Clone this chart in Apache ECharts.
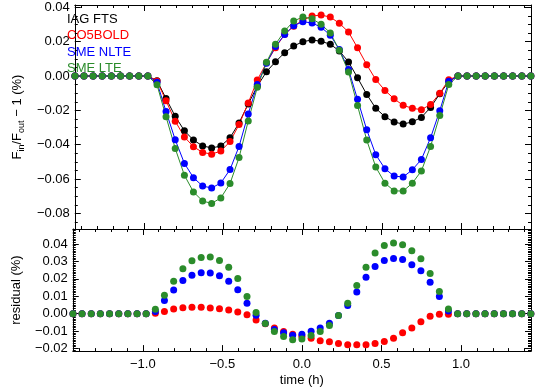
<!DOCTYPE html>
<html>
<head>
<meta charset="utf-8">
<script src="https://cdn.jsdelivr.net/npm/echarts@6/dist/echarts.min.js"></script>
<style>
html, body { margin: 0; padding: 0; background: #fff; }
#main { width: 538px; height: 389px; }
</style>
</head>
<body>
<div id="main"></div>
<script>
// time of each exposure (h)
var time = [
  -1.439, -1.382, -1.324, -1.267, -1.209, -1.151, -1.094, -1.036, -0.979, -0.921,
  -0.864, -0.806, -0.748, -0.691, -0.633, -0.576, -0.518, -0.460, -0.403, -0.345,
  -0.288, -0.230, -0.173, -0.115, -0.058, 0.000, 0.058, 0.115, 0.173, 0.230,
  0.288, 0.345, 0.403, 0.460, 0.518, 0.576, 0.633, 0.691, 0.748, 0.806,
  0.864, 0.921, 0.979, 1.036, 1.094, 1.151, 1.209, 1.267, 1.324, 1.382, 1.439
];
// F_in/F_out - 1 (%)
var iagFts = [
  0, 0, 0, 0, 0, 0, 0, 0, 0, -0.0027,
  -0.0131, -0.0235, -0.0319, -0.0373, -0.0407, -0.0419, -0.0408, -0.0360, -0.0273, -0.0163,
  -0.0060, 0.0025, 0.0083, 0.0136, 0.0175, 0.0200, 0.0210, 0.0202, 0.0185, 0.0146,
  0.0082, -0.0010, -0.0107, -0.0188, -0.0237, -0.0268, -0.0280, -0.0267, -0.0241, -0.0183,
  -0.0104, -0.0032, 0, 0, 0, 0, 0, 0, 0, 0, 0
];
var co5bold = [
  0, 0, 0, 0, 0, 0, 0, 0, 0, -0.0029,
  -0.0144, -0.0263, -0.0355, -0.0412, -0.0445, -0.0455, -0.0437, -0.0382, -0.0283, -0.0157,
  -0.0024, 0.0077, 0.0165, 0.0243, 0.0290, 0.0326, 0.0349, 0.0355, 0.0343, 0.0307,
  0.0256, 0.0164, 0.0066, -0.0021, -0.0084, -0.0133, -0.0171, -0.0188, -0.0196, -0.0166,
  -0.0101, -0.0022, 0, 0, 0, 0, 0, 0, 0, 0, 0
];
var smeNlte = [
  0, 0, 0, 0, 0, 0, 0, 0, 0, -0.0037,
  -0.0207, -0.0371, -0.0509, -0.0592, -0.0641, -0.0652, -0.0623, -0.0545, -0.0410, -0.0221,
  -0.0050, 0.0074, 0.0172, 0.0241, 0.0293, 0.0316, 0.0309, 0.0284, 0.0238, 0.0154,
  0.0038, -0.0136, -0.0313, -0.0458, -0.0540, -0.0583, -0.0588, -0.0546, -0.0486, -0.0360,
  -0.0202, -0.0030, 0, 0, 0, 0, 0, 0, 0, 0, 0
];
var smeLte = [
  0, 0, 0, 0, 0, 0, 0, 0, 0, -0.0051,
  -0.0237, -0.0422, -0.0578, -0.0675, -0.0728, -0.0742, -0.0710, -0.0626, -0.0475, -0.0262,
  -0.0066, 0.0080, 0.0185, 0.0262, 0.0320, 0.0344, 0.0333, 0.0301, 0.0251, 0.0150,
  0.0024, -0.0172, -0.0373, -0.0530, -0.0624, -0.0669, -0.0670, -0.0624, -0.0553, -0.0410,
  -0.0230, -0.0050, 0, 0, 0, 0, 0, 0, 0, 0, 0
];
// residual (%)
var resCo5bold = [
  0, 0, 0, 0, 0, 0, 0, 0, 0, 0.0002,
  0.0012, 0.0027, 0.0034, 0.0037, 0.0037, 0.0032, 0.0028, 0.0021, 0.0009, -0.0007,
  -0.0036, -0.0058, -0.0082, -0.0103, -0.0118, -0.0130, -0.0141, -0.0156, -0.0162, -0.0171,
  -0.0179, -0.0179, -0.0179, -0.0171, -0.0160, -0.0141, -0.0110, -0.0082, -0.0046, -0.0015,
  -0.0004, -0.0004, 0, 0, 0, 0, 0, 0, 0, 0, 0
];
var resSmeNlte = [
  0, 0, 0, 0, 0, 0, 0, 0, 0, 0.0013,
  0.0076, 0.0136, 0.0190, 0.0220, 0.0235, 0.0234, 0.0217, 0.0186, 0.0137, 0.0059,
  -0.0009, -0.0055, -0.0091, -0.0110, -0.0124, -0.0118, -0.0101, -0.0082, -0.0055, -0.0011,
  0.0047, 0.0125, 0.0209, 0.0271, 0.0305, 0.0317, 0.0311, 0.0281, 0.0247, 0.0180,
  0.0099, 0.0015, 0, 0, 0, 0, 0, 0, 0, 0, 0
];
var resSmeLte = [
  0, 0, 0, 0, 0, 0, 0, 0, 0, 0.0025,
  0.0106, 0.0186, 0.0258, 0.0303, 0.0323, 0.0325, 0.0305, 0.0266, 0.0202, 0.0099,
  0.0006, -0.0057, -0.0103, -0.0131, -0.0150, -0.0146, -0.0126, -0.0103, -0.0068, -0.0011,
  0.0059, 0.0161, 0.0266, 0.0348, 0.0391, 0.0405, 0.0395, 0.0361, 0.0315, 0.0230,
  0.0127, 0.0026, 0, 0, 0, 0, 0, 0, 0, 0, 0
];
var seriesNames = ['IAG FTS', 'CO5BOLD', 'SME NLTE', 'SME LTE'];
var timeTicks = [-1.0, -0.5, 0.0, 0.5, 1.0];
var fluxTicks = [-0.08, -0.06, -0.04, -0.02, 0.00, 0.02, 0.04];
var resTicks = [-0.02, -0.01, 0.00, 0.01, 0.02, 0.03, 0.04];

var colors = ['#000000', '#ff0000', '#0000ff', '#2b8c2b'];
var FONT = '"Liberation Sans", Arial, sans-serif';

// minor tick positions
function steps(from, to, step, major) {
  var out = [];
  var n = Math.round((to - from) / step);
  for (var k = 0; k <= n; k++) {
    var v = +(from + k * step).toFixed(4);
    if (major.indexOf(v) < 0) out.push(v);
  }
  return out;
}
var timeMinor = steps(-1.4, 1.4, 0.1, timeTicks);
var fluxMinor = steps(-0.085, 0.04, 0.005, fluxTicks);
var resMinor = steps(-0.021, 0.048, 0.001, resTicks);

function fmt(dec) {
  return function (v) {
    return (v < 0 ? '\u2212' : '') + Math.abs(v).toFixed(dec);
  };
}

var tMin = -1.44, tMax = 1.44;
var fMin = -0.0891, fMax = 0.04135;
var rMin = -0.0215, rMax = 0.0486;

function xAx(grid, pos, ticks, len, major, label) {
  return {
    type: 'value', gridIndex: grid, position: pos, min: tMin, max: tMax,
    axisLine: { show: major, onZero: false, lineStyle: { color: '#000', width: 1 } },
    axisTick: { show: true, inside: true, length: len, customValues: ticks, lineStyle: { color: '#000', width: 1 } },
    axisLabel: label ? {
      show: true, customValues: timeTicks, formatter: fmt(1), margin: 7,
      color: '#000', fontSize: 13, fontFamily: FONT
    } : { show: false },
    splitLine: { show: false },
    name: label ? 'time (h)' : '',
    nameLocation: 'middle', nameGap: 19,
    nameTextStyle: { color: '#000', fontSize: 13, fontFamily: FONT, lineHeight: 16 }
  };
}

function yAx(grid, pos, min, max, ticks, len, major, labels, name, nameGap, rich) {
  return {
    type: 'value', gridIndex: grid, position: pos, min: min, max: max,
    axisLine: { show: major, onZero: false, lineStyle: { color: '#000', width: 1 } },
    axisTick: { show: true, inside: true, length: len, customValues: ticks, lineStyle: { color: '#000', width: 1 } },
    axisLabel: labels ? {
      show: true, customValues: labels, formatter: fmt(2), margin: 5,
      color: '#000', fontSize: 13, fontFamily: FONT
    } : { show: false },
    splitLine: { show: false },
    name: name || '',
    nameLocation: 'middle', nameGap: nameGap || 0,
    nameTextStyle: { color: '#000', fontSize: 13, fontFamily: FONT, lineHeight: 16, rich: rich }
  };
}

var titleRich = {
  m: { fontSize: 13, fontFamily: FONT, color: '#000', lineHeight: 18 },
  s: { fontSize: 9, fontFamily: FONT, color: '#000', lineHeight: 9, verticalAlign: 'bottom' }
};

var xAxes = [
  xAx(0, 'bottom', timeTicks, 6, true, false),
  xAx(0, 'bottom', timeMinor, 3, false, false),
  xAx(0, 'top', timeTicks, 6, true, false),
  xAx(0, 'top', timeMinor, 3, false, false),
  xAx(1, 'bottom', timeTicks, 6, true, true),
  xAx(1, 'bottom', timeMinor, 3, false, false),
  xAx(1, 'top', timeTicks, 6, true, false),
  xAx(1, 'top', timeMinor, 3, false, false)
];
var yAxes = [
  yAx(0, 'left', fMin, fMax, fluxTicks, 6, true, fluxTicks,
      '{m|F}{s|in}{m|/F}{s|out}{m| \u2212 1 (%)}', 38, titleRich),
  yAx(0, 'left', fMin, fMax, fluxMinor, 3, false),
  yAx(0, 'right', fMin, fMax, fluxTicks, 6, true),
  yAx(0, 'right', fMin, fMax, fluxMinor, 3, false),
  yAx(1, 'left', rMin, rMax, resTicks, 6, true, resTicks, 'residual (%)', 46),
  yAx(1, 'left', rMin, rMax, resMinor, 3, false),
  yAx(1, 'right', rMin, rMax, resTicks, 6, true),
  yAx(1, 'right', rMin, rMax, resMinor, 3, false)
];

function pairs(vals) {
  return time.map(function (t, i) { return [t, vals[i]]; });
}

var series = [];
[iagFts, co5bold, smeNlte, smeLte].forEach(function (vals, k) {
  series.push({
    name: seriesNames[k], type: 'line', xAxisIndex: 0, yAxisIndex: 0,
    data: pairs(vals), symbol: 'circle', symbolSize: 7, showSymbol: true,
    color: colors[k], lineStyle: { color: colors[k], width: 1 },
    itemStyle: { color: colors[k], opacity: 1 }, silent: true
  });
});
[resCo5bold, resSmeNlte, resSmeLte].forEach(function (vals, k) {
  series.push({
    name: 'res ' + seriesNames[k + 1], type: 'scatter', xAxisIndex: 4, yAxisIndex: 4,
    data: pairs(vals), symbol: 'circle', symbolSize: 7,
    itemStyle: { color: colors[k + 1], opacity: 1 }, silent: true
  });
});

var legendY = [19.5, 35, 52, 68.5];
var graphic = seriesNames.map(function (n, k) {
  return {
    type: 'text', z: 100,
    style: { x: 67, y: legendY[k], text: n, fill: colors[k], font: '13px ' + FONT, verticalAlign: 'middle' }
  };
});

var chart = echarts.init(document.getElementById('main'), null, { renderer: 'canvas' });
chart.setOption({
  animation: false,
  backgroundColor: '#fff',
  grid: [
    { left: 62, right: 7, top: 5, height: 224 },
    { left: 62, right: 7, top: 229, height: 123 }
  ],
  xAxis: xAxes,
  yAxis: yAxes,
  series: series,
  graphic: graphic
});
</script>
</body>
</html>
